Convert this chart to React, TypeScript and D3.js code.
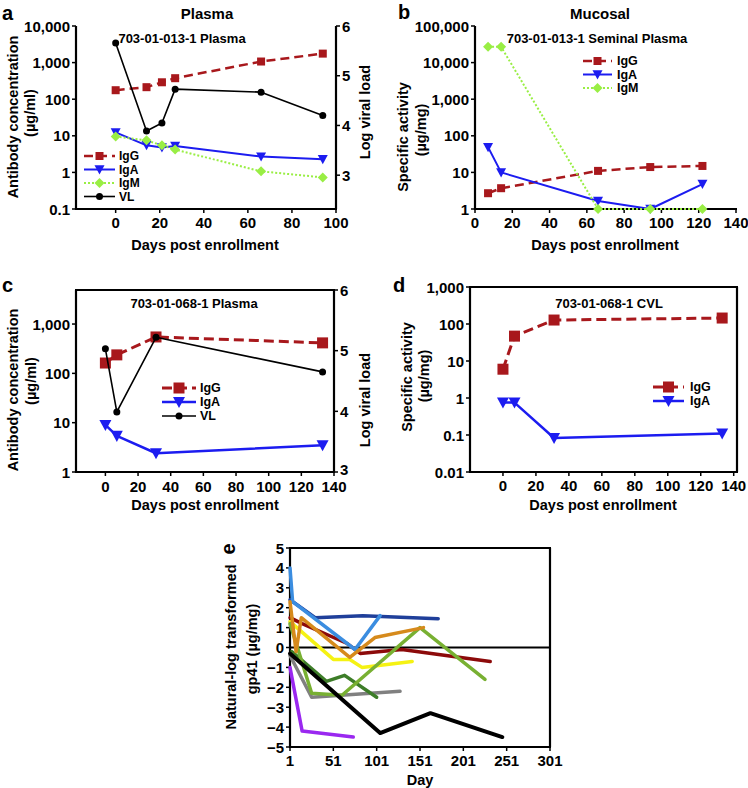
import React from 'react';
import * as d3 from 'd3';

// ---------- Panel a : 703-01-013-1 Plasma ----------
const aDays = [0, 14, 21, 27, 66, 94];
const aIgG = [176, 213, 290, 375, 1070, 1760];
const aIgA = [12.4, 5.5, 4.8, 5.3, 2.7, 2.3];
const aIgM = [9.6, 7.5, 5.5, 4.2, 1.07, 0.73];
const aVL = [5.66, 3.89, 4.05, 4.73, 4.67, 4.2];
const aXTicks = [0, 20, 40, 60, 80, 100];
const aYTicks = [0.1, 1, 10, 100, 1000, 10000];
const aRTicks = [3, 4, 5, 6];

// ---------- Panel b : 703-01-013-1 Seminal Plasma ----------
const bDays = [7, 14, 66, 94, 122];
const bIgG = [2.7, 3.7, 11, 14, 15];
const bIgA = [49, 10, 1.65, 1, 4.8];
const bIgM = [27000, 27000, 1, 1, 1];
const bXTicks = [0, 20, 40, 60, 80, 100, 120, 140];
const bYTicks = [1, 10, 100, 1000, 10000, 100000];

// ---------- Panel c : 703-01-068-1 Plasma ----------
const cDays = [0, 7, 31, 133];
const cIgG = [162, 237, 547, 415];
const cIgA = [9, 5.4, 2.4, 3.5];
const cVL = [5.03, 3.99, 5.22, 4.65];
const cXTicks = [0, 20, 40, 60, 80, 100, 120, 140];
const cYTicks = [1, 10, 100, 1000];
const cRTicks = [3, 4, 5, 6];

// ---------- Panel d : 703-01-068-1 CVL ----------
const dDays = [0, 7, 31, 133];
const dIgG = [6, 47, 128, 145];
const dIgA = [0.75, 0.75, 0.083, 0.11];
const dXTicks = [0, 20, 40, 60, 80, 100, 120, 140];
const dYTicks = [0.01, 0.1, 1, 10, 100, 1000];

// ---------- Panel e : natural-log transformed gp41 ----------
const eXTicks = [1, 51, 101, 151, 201, 251, 301];
const eYTicks = [-5, -4, -3, -2, -1, 0, 1, 2, 3, 4, 5];
const eMaroonDay = [1, 15, 67, 82, 130, 232];
const eMaroon = [1.5, 1.2, 0.2, -0.3, -0.1, -0.7];
const eYellowDay = [1, 51, 70, 84, 142];
const eYellow = [1.3, -0.6, -0.6, -1.0, -0.7];
const eGrayDay = [1, 26, 128];
const eGray = [-0.4, -2.5, -2.2];
const eDkGreenDay = [3, 43, 64, 101];
const eDkGreen = [-0.2, -1.7, -1.4, -2.5];
const eOliveDay = [1, 26, 61, 151, 226];
const eOlive = [1.2, -2.3, -2.4, 1.0, -1.6];
const ePurpleDay = [1, 15, 74];
const ePurple = [-1.0, -4.2, -4.5];
const eNavyDay = [1, 30, 85, 172];
const eNavy = [2.4, 1.5, 1.6, 1.45];
const eLightBlueDay = [1, 4, 76, 105];
const eLightBlue = [4.0, 2.3, -0.1, 1.6];
const eOrangeDay = [1, 8, 14, 70, 99, 155];
const eOrange = [2.3, -0.2, 1.5, -0.5, 0.5, 1.0];
const eBlackDay = [1, 105, 163, 246];
const eBlack = [-0.3, -4.3, -3.3, -4.5];

const FONT = '"Liberation Sans", Arial, Helvetica, sans-serif';
const C_IGG = '#a8181c';
const C_IGA = '#1c1cf0';
const C_IGM = '#99ee44';

type Marker = 'square' | 'tri' | 'diamond' | 'circle' | 'none';
interface Series {
  xs: number[];
  ys: number[];
  color: string;
  width: number;
  dash?: string;
  marker: Marker;
  msize: number;
  right?: boolean;
}

function drawMarker(kind: Marker, x: number, y: number, s: number, color: string, key: string) {
  if (kind === 'square') return <rect key={key} x={x - s / 2} y={y - s / 2} width={s} height={s} fill={color} />;
  if (kind === 'tri')
    return <polygon key={key} points={`${x - s / 2},${y - s * 0.42} ${x + s / 2},${y - s * 0.42} ${x},${y + s * 0.5}`} fill={color} />;
  if (kind === 'diamond')
    return <polygon key={key} points={`${x},${y - s / 2} ${x + s / 2},${y} ${x},${y + s / 2} ${x - s / 2},${y}`} fill={color} />;
  if (kind === 'circle') return <circle key={key} cx={x} cy={y} r={s / 2} fill={color} />;
  return null;
}

function T(props: { x: number; y: number; size: number; anchor?: string; rotate?: number; children: any; central?: boolean; sx?: number }) {
  const { x, y, size, anchor = 'middle', rotate = 0, children, central, sx = 1 } = props;
  let tr = `translate(${x},${y})`;
  if (rotate) tr += ` rotate(${rotate})`;
  if (sx !== 1) tr += ` scale(${sx},1)`;
  return (
    <text
      transform={tr}
      fontFamily={FONT}
      fontWeight="bold"
      fontSize={size}
      textAnchor={anchor as any}
      dominantBaseline={central ? 'central' : undefined}
      fill="#000"
    >
      {children}
    </text>
  );
}

interface PanelProps {
  id: string;
  x0: number; x1: number; y0: number; y1: number;
  xDomain: [number, number];
  xTicks: number[];
  yLog: boolean;
  yDomain: [number, number];
  yTicks: number[];
  rDomain?: [number, number];
  rTicks?: number[];
  top: boolean;
  rightLine: boolean;
  series: Series[];
  tickSize: number;
  xLabelGap: number;
  rLabelDy?: number;
}

function Panel(p: PanelProps) {
  const x = d3.scaleLinear().domain(p.xDomain).range([p.x0, p.x1]);
  const y = p.yLog
    ? d3.scaleLog().domain(p.yDomain).range([p.y1, p.y0])
    : d3.scaleLinear().domain(p.yDomain).range([p.y1, p.y0]);
  const r = p.rDomain ? d3.scaleLinear().domain(p.rDomain).range([p.y1, p.y0]) : null;
  const fmt = d3.format(',');
  const minus = (v: number) => (v < 0 ? '\u2212' + Math.abs(v) : String(v));
  const line = (s: Series) => {
    const ys = s.right && r ? r : y;
    const g = d3.line<number>().x((_, i) => x(s.xs[i])).y((v) => ys(v) as number);
    return g(s.ys) || '';
  };
  const sw = 2.2;
  const rdy = p.rLabelDy || 0;
  return (
    <g>
      <line x1={p.x0} x2={p.x0} y1={p.y0} y2={p.y1} stroke="#000" strokeWidth={sw} />
      <line x1={p.x0 - 1} x2={p.x1 + 1} y1={p.y1} y2={p.y1} stroke="#000" strokeWidth={sw} />
      {p.top && <line x1={p.x0 - 1} x2={p.x1 + 1} y1={p.y0} y2={p.y0} stroke="#000" strokeWidth={sw} />}
      {p.rightLine && <line x1={p.x1} x2={p.x1} y1={p.y0} y2={p.y1} stroke="#000" strokeWidth={sw} />}
      {p.xTicks.map((t) => (
        <g key={'xt' + t}>
          <line x1={x(t)} x2={x(t)} y1={p.y1} y2={p.y1 + 4} stroke="#000" strokeWidth={1.5} />
          <T x={x(t)} y={p.y1 + p.xLabelGap} size={p.tickSize}>{t}</T>
        </g>
      ))}
      {p.yTicks.map((t) => (
        <g key={'yt' + t}>
          <line x1={p.x0 - 4} x2={p.x0} y1={y(t) as number} y2={y(t) as number} stroke="#000" strokeWidth={1.5} />
          <T x={p.x0 - 6} y={y(t) as number} size={p.tickSize} anchor="end" central>
            {p.yLog ? fmt(t) : minus(t)}
          </T>
        </g>
      ))}
      {r && p.rTicks &&
        p.rTicks.map((t, i) => (
          <g key={'rt' + t}>
            <line x1={p.x1} x2={p.x1 + 4} y1={r(t)} y2={r(t)} stroke="#000" strokeWidth={1.5} />
            <T x={p.x1 + 6} y={r(t) - (i === 0 ? rdy : 0)} size={p.tickSize} anchor="start" central>{t}</T>
          </g>
        ))}
      {p.series.map((s, i) => (
        <g key={p.id + 's' + i}>
          <path d={line(s)} fill="none" stroke={s.color} strokeWidth={s.width} strokeDasharray={s.dash} strokeLinejoin="round" strokeLinecap={s.marker === 'none' ? 'round' : 'butt'} />
          {s.marker !== 'none' &&
            s.ys.map((v, j) =>
              drawMarker(s.marker, x(s.xs[j]), (s.right && r ? r(v) : (y(v) as number)), s.msize, s.color, p.id + 'm' + i + '_' + j)
            )}
        </g>
      ))}
    </g>
  );
}

function Legend(props: { items: { s: Series; label: string }[]; lx0: number; lx1: number; tx: number; ys: number[]; size: number }) {
  const { items, lx0, lx1, tx, ys, size } = props;
  return (
    <g>
      {items.map((it, i) => (
        <g key={'lg' + i}>
          <line x1={lx0} x2={lx1} y1={ys[i]} y2={ys[i]} stroke={it.s.color} strokeWidth={it.s.width} strokeDasharray={it.s.dash} />
          {drawMarker(it.s.marker, (lx0 + lx1) / 2, ys[i], it.s.msize, it.s.color, 'lm' + i)}
          <T x={tx} y={ys[i]} size={size} anchor="start" central>{it.label}</T>
        </g>
      ))}
    </g>
  );
}

export default function App() {
  const aG: Series = { xs: aDays, ys: aIgG, color: C_IGG, width: 2.5, dash: '9,5', marker: 'square', msize: 8 };
  const aA: Series = { xs: aDays, ys: aIgA, color: C_IGA, width: 2, marker: 'tri', msize: 10 };
  const aM: Series = { xs: aDays, ys: aIgM, color: C_IGM, width: 2, dash: '2,2', marker: 'diamond', msize: 10 };
  const aV: Series = { xs: aDays, ys: aVL, color: '#000', width: 1.6, marker: 'circle', msize: 7, right: true };

  const bG: Series = { xs: bDays, ys: bIgG, color: C_IGG, width: 2.5, dash: '9,5', marker: 'square', msize: 8 };
  const bA: Series = { xs: bDays, ys: bIgA, color: C_IGA, width: 2, marker: 'tri', msize: 10 };
  const bM: Series = { xs: bDays, ys: bIgM, color: C_IGM, width: 2, dash: '2,2', marker: 'diamond', msize: 10 };

  const cG: Series = { xs: cDays, ys: cIgG, color: C_IGG, width: 3, dash: '10,5', marker: 'square', msize: 11 };
  const cA: Series = { xs: cDays, ys: cIgA, color: C_IGA, width: 2.5, marker: 'tri', msize: 12 };
  const cV: Series = { xs: cDays, ys: cVL, color: '#000', width: 1.6, marker: 'circle', msize: 7, right: true };

  const dG: Series = { xs: dDays, ys: dIgG, color: C_IGG, width: 3, dash: '10,5', marker: 'square', msize: 11 };
  const dA: Series = { xs: dDays, ys: dIgA, color: C_IGA, width: 2.5, marker: 'tri', msize: 12 };

  const ew = 3.5;
  const eSeries: Series[] = [
    { xs: eMaroonDay, ys: eMaroon, color: '#8c0a0a', width: ew, marker: 'none', msize: 0 },
    { xs: eYellowDay, ys: eYellow, color: '#f5f213', width: ew, marker: 'none', msize: 0 },
    { xs: eGrayDay, ys: eGray, color: '#808080', width: ew, marker: 'none', msize: 0 },
    { xs: eDkGreenDay, ys: eDkGreen, color: '#3d7d28', width: ew, marker: 'none', msize: 0 },
    { xs: eOliveDay, ys: eOlive, color: '#78b032', width: ew, marker: 'none', msize: 0 },
    { xs: ePurpleDay, ys: ePurple, color: '#9a28f0', width: ew, marker: 'none', msize: 0 },
    { xs: eNavyDay, ys: eNavy, color: '#1f3f9a', width: ew, marker: 'none', msize: 0 },
    { xs: eLightBlueDay, ys: eLightBlue, color: '#3b8de0', width: ew, marker: 'none', msize: 0 },
    { xs: eOrangeDay, ys: eOrange, color: '#d68a1c', width: ew, marker: 'none', msize: 0 },
    { xs: eBlackDay, ys: eBlack, color: '#000', width: ew + 0.5, marker: 'none', msize: 0 },
  ];
  const eY = d3.scaleLinear().domain([-5, 5]).range([747, 548]);

  const TS = 15;
  const LS = 14.5;

  return (
    <svg width={748} height={788} style={{ position: 'absolute', left: 0, top: 0, background: '#fff' }}>
      <rect x={0} y={0} width={748} height={788} fill="#fff" />

      {/* ===== Panel a ===== */}
      <T x={2} y={20} size={20} anchor="start">a</T>
      <T x={207} y={19} size={15}>Plasma</T>
      <Panel id="a" x0={76} x1={336} y0={26} y1={209} xDomain={[-18, 100]} xTicks={aXTicks} yLog yDomain={[0.1, 10000]}
        yTicks={aYTicks} rDomain={[2.32, 6]} rTicks={aRTicks} top={false} rightLine series={[aG, aA, aM, aV]} tickSize={TS} xLabelGap={19} />
      <T x={182} y={43} size={13}>703-01-013-1 Plasma</T>
      <Legend items={[{ s: aG, label: 'IgG' }, { s: aA, label: 'IgA' }, { s: aM, label: 'IgM' }, { s: aV, label: 'VL' }]}
        lx0={84} lx1={115} tx={119} ys={[156, 169.5, 183, 196.5]} size={12} />
      <T x={13} y={117} size={LS} rotate={-90} central>Antibody concentration</T>
      <T x={30} y={113} size={LS} rotate={-90} central>(µg/ml)</T>
      <T x={365} y={112} size={LS} rotate={-90} central>Log viral load</T>
      <T x={205} y={250} size={LS}>Days post enrollment</T>

      {/* ===== Panel b ===== */}
      <T x={398} y={19} size={20} anchor="start">b</T>
      <T x={600} y={19} size={15}>Mucosal</T>
      <Panel id="b" x0={475} x1={736} y0={26} y1={209} xDomain={[0, 140]} xTicks={bXTicks} yLog yDomain={[1, 100000]}
        yTicks={bYTicks} top={false} rightLine={false} series={[bG, bA, bM]} tickSize={TS} xLabelGap={19} />
      <T x={597} y={43} size={13}>703-01-013-1 Seminal Plasma</T>
      <Legend items={[{ s: bG, label: 'IgG' }, { s: bA, label: 'IgA' }, { s: bM, label: 'IgM' }]}
        lx0={583} lx1={612} tx={617} ys={[61, 74.5, 88]} size={12.5} />
      <T x={403} y={137} size={LS} rotate={-90} central>Specific activity</T>
      <T x={421} y={130} size={LS} rotate={-90} central>(µg/mg)</T>
      <T x={605} y={250} size={LS}>Days post enrollment</T>

      {/* ===== Panel c ===== */}
      <T x={2} y={292} size={20} anchor="start">c</T>
      <Panel id="c" x0={76} x1={334} y0={290} y1={472} xDomain={[-18, 140]} xTicks={cXTicks} yLog yDomain={[1, 4900]}
        yTicks={cYTicks} rDomain={[3, 6]} rTicks={cRTicks} top rightLine series={[cG, cA, cV]} tickSize={TS} xLabelGap={20} rLabelDy={3} />
      <T x={194} y={308} size={13}>703-01-068-1 Plasma</T>
      <Legend items={[{ s: cG, label: 'IgG' }, { s: cA, label: 'IgA' }, { s: cV, label: 'VL' }]}
        lx0={162} lx1={196} tx={200} ys={[388, 402, 416]} size={12.5} />
      <T x={13} y={390} size={LS} rotate={-90} central>Antibody concentration</T>
      <T x={31} y={381} size={LS} rotate={-90} central>(µg/ml)</T>
      <T x={365} y={400} size={LS} rotate={-90} central>Log viral load</T>
      <T x={205} y={510} size={LS}>Days post enrollment</T>

      {/* ===== Panel d ===== */}
      <T x={393} y={292} size={20} anchor="start">d</T>
      <Panel id="d" x0={470} x1={737} y0={287} y1={472} xDomain={[-20, 142]} xTicks={dXTicks} yLog yDomain={[0.01, 1000]}
        yTicks={dYTicks} top rightLine series={[dG, dA]} tickSize={TS} xLabelGap={19} />
      <T x={609} y={308} size={13}>703-01-068-1 CVL</T>
      <Legend items={[{ s: dG, label: 'IgG' }, { s: dA, label: 'IgA' }]}
        lx0={653} lx1={684} tx={690} ys={[387, 401]} size={12.5} />
      <T x={407} y={377} size={LS} rotate={-90} central>Specific activity</T>
      <T x={424} y={376} size={LS} rotate={-90} central>(µg/mg)</T>
      <T x={603} y={510} size={LS}>Days post enrollment</T>

      {/* ===== Panel e ===== */}
      <T x={228} y={549} size={20} rotate={-90} central>e</T>
      <line x1={290} x2={550} y1={eY(0)} y2={eY(0)} stroke="#000" strokeWidth={2} />
      <Panel id="e" x0={290} x1={550} y0={548} y1={747} xDomain={[1, 301]} xTicks={eXTicks} yLog={false} yDomain={[-5, 5]}
        yTicks={eYTicks} top rightLine series={eSeries} tickSize={TS} xLabelGap={19} />
      <T x={231} y={647} size={LS} rotate={-90} central>Natural-log transformed</T>
      <T x={252} y={649} size={LS} rotate={-90} central>gp41 (µg/mg)</T>
      <T x={420} y={785} size={LS}>Day</T>
    </svg>
  );
}
